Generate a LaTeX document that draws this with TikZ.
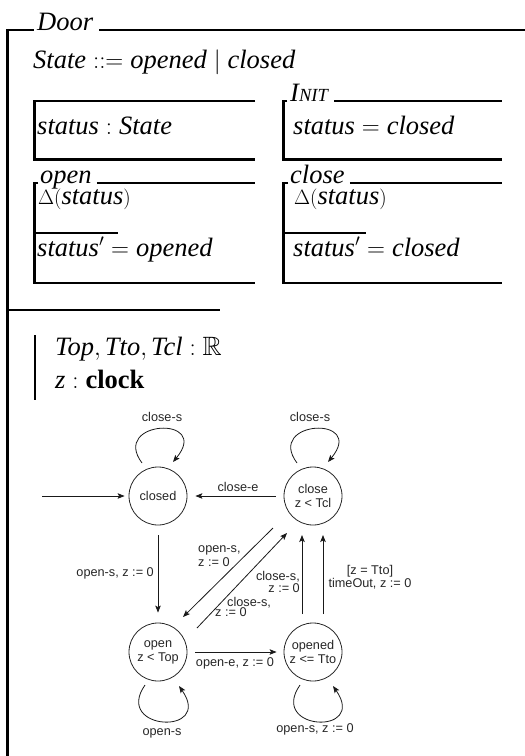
\documentclass[tikz,border=0pt]{standalone}
\usepackage{amssymb}
\usepackage{fontspec}
\setmainfont{Liberation Serif}
\newfontfamily\diagfont{Liberation Sans}
\usetikzlibrary{arrows.meta}

% Delta-list of an operation schema: smaller upright delta and brackets
\newcommand{\zdeltaof}[1]{{\fontsize{21.5}{26}\selectfont$\Delta($}\textit{#1}{\fontsize{21.5}{26}\selectfont$)$}}

\begin{document}
\begin{tikzpicture}[x=1pt,y=1pt,
  zline/.style={line width=2.4pt},
  zbar/.style={line width=3.2pt},
  ztext/.style={inner sep=0pt, anchor=base west, font=\fontsize{26.5}{30}\selectfont},
  zname/.style={inner sep=0pt, anchor=base west, font=\fontsize{26.5}{30}\selectfont\itshape},
  stat/.style={circle, draw=black!85, line width=0.8pt, minimum size=58pt, inner sep=0pt,
    align=center, font=\diagfont\fontsize{12.7}{14}\selectfont, text=black!85},
  tr/.style={draw=black!90, line width=0.8pt, -{Stealth[length=7pt,width=5.5pt,inset=1.5pt]}},
  lbl/.style={font=\diagfont\fontsize{12.7}{13.5}\selectfont, text=black!85, inner sep=0pt},
]
\useasboundingbox (0,0) rectangle (525,-756);

% ---- schema Door: frame ----
\node[zname] (door) at (37,-30) {Door};
\draw[zbar] (7.5,-28.8) -- (7.5,-756);
\draw[zline] (6,-30) -- ([xshift=-3pt]door.base west);
\draw[zline] ([xshift=6pt]door.base east) -- (525,-30);

% free type
\node[ztext] (stdef) at (33,-68) {$\textit{State} ::= \textit{opened} \mid \textit{closed}$};

% state schema
\node[ztext] (sdecl) at (37,-134) {$\textit{status} : \textit{State}$};
\draw[zline] (255,-101) -- (34.5,-101) -- (34.5,-159.5) -- (255,-159.5);

% Init schema
\node[zname] (init) at (290,-101) {I\fontsize{18.5}{20}\selectfont NIT};
\node[ztext] (initp) at (293,-134) {$\textit{status} = \textit{closed}$};
\draw[zline] ([xshift=-3pt]init.base west) -- (283.5,-101) -- (283.5,-159.5) -- (502,-159.5);
\draw[zline] ([xshift=6pt]init.base east) -- (502,-101);

% open operation
\node[zname] (openn) at (40,-183) {open};
\node[ztext] (opdelta) at (38,-204) {\zdeltaof{status}};
\node[ztext] (oppost) at (37,-256) {$\textit{status}' = \textit{opened}$};
\draw[zline] ([xshift=-2pt]openn.base west) -- (34.5,-183) -- (34.5,-283) -- (255,-283);
\draw[zline] ([xshift=5pt]openn.base east) -- (255,-183);
\draw[zline] (34.5,-233) -- (118,-233);

% close operation
\node[zname] (closen) at (290,-183) {close};
\node[ztext] (cldelta) at (294,-204) {\zdeltaof{status}};
\node[ztext] (clpost) at (293,-256) {$\textit{status}' = \textit{closed}$};
\draw[zline] ([xshift=-2pt]closen.base west) -- (283.5,-183) -- (283.5,-283) -- (502,-283);
\draw[zline] ([xshift=5pt]closen.base east) -- (502,-183);
\draw[zline] (283.5,-233) -- (366,-233);

% separator of declaration and predicate parts
\draw[zline] (7.5,-310) -- (220,-310);

% axiomatic constants
\draw[line width=2pt] (34.5,-335) -- (34.5,-400);
\node[ztext] (consts) at (55,-355) {$\textit{Top}, \textit{Tto}, \textit{Tcl} : \mathbb{R}$};
\node[ztext] (clockd) at (55,-388) {$\textit{z} : \textbf{clock}$};

% ---- timed automaton ----
\node[stat] (closed) at (158,-496) {closed};
\node[stat] (close) at (313,-496) {close\\z < Tcl};
\node[stat] (open) at (158,-652) {open\\z < Top};
\node[stat] (opened) at (313,-652) {opened\\z <= Tto};

% initial arrow
\coordinate (start) at (42,-496);
\draw[tr, shorten >=4pt] (start) -- (closed.west);

% close -> closed
\draw[tr, shorten <=8pt, shorten >=8pt] (close.west) -- (closed.east);
\node[lbl] (lce) at (238,-487) {close-e};

% closed -> open
\draw[tr, shorten <=10pt, shorten >=10pt] (closed.south) -- (open.north);
\node[lbl, anchor=east] (lcs) at (154,-573) {open-s, z := 0};

% close <-> open diagonals
\draw[tr] ([shift={(-40,-32)}]close.center) -- ([shift={(25,35)}]open.center);
\node[lbl, align=left, anchor=west] (lco) at (198,-556) {open-s,\\z := 0};
\draw[tr] ([shift={(39,24)}]open.center) -- ([shift={(-26,-37)}]close.center);
\node[lbl, align=left, anchor=west] (loc) at (215,-607) {\hspace*{12pt}close-s,\\[-3.5pt]z := 0};

% opened -> close
\draw[tr] ([shift={(-11,38)}]opened.center) -- ([shift={(-11,-39)}]close.center);
\draw[tr] ([shift={(10,38)}]opened.center) -- ([shift={(10,-39)}]close.center);
\node[lbl, align=right, anchor=east] (lpc) at (300,-582) {close-s,\\[-1pt]z := 0};
\node[lbl, align=center] (lto) at (370,-577) {[z = Tto]\\timeOut, z := 0};

% open -> opened
\draw[tr, shorten <=8pt, shorten >=7pt] (open.east) -- (opened.west);
\node[lbl] (loe) at (235,-663) {open-e, z := 0};

% self loops
\draw[tr] ([shift={(-16,33)}]closed.center) .. controls +(-32,43) and +(39,47) .. ([shift={(15,34)}]closed.center);
\node[lbl] (lcl1) at (162,-417) {close-s};
\draw[tr] ([shift={(-16,33)}]close.center) .. controls +(-32,43) and +(39,47) .. ([shift={(15,34)}]close.center);
\node[lbl] (lcl2) at (310,-417) {close-s};
\draw[tr] ([shift={(-13,-33)}]open.center) .. controls +(-32,-46) and +(35,-50) .. ([shift={(21,-34)}]open.center);
\node[lbl] (lop1) at (162,-733) {open-s};
\draw[tr] ([shift={(-13,-33)}]opened.center) .. controls +(-32,-46) and +(35,-50) .. ([shift={(20,-34)}]opened.center);
\node[lbl] (lop2) at (315,-729) {open-s, z := 0};
\end{tikzpicture}
\end{document}
